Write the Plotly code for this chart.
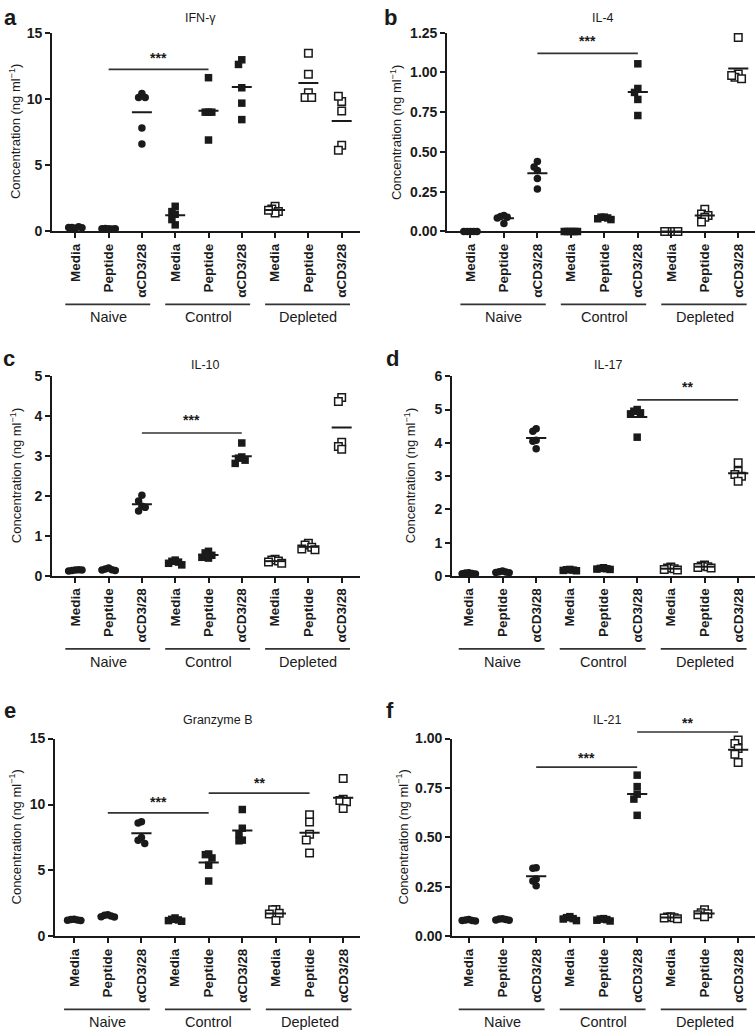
import plotly.graph_objects as go

W, H = 755, 1036

CATS = ["Media", "Peptide", "αCD3/28"] * 3
GROUPS = ["Naive", "Control", "Depleted"]
TITLES = ["IFN-γ", "IL-4", "IL-10", "IL-17", "Granzyme B", "IL-21"]
LETTERS = ["a", "b", "c", "d", "e", "f"]

# values (ng/ml), 9 conditions per panel: Naive/Control/Depleted x Media/Peptide/aCD3/28
IFNG = [[0.25, 0.3, 0.35, 0.3, 0.28], [0.2, 0.22, 0.18, 0.2, 0.21],
        [10.4, 10.1, 10.1, 7.8, 6.6],
        [1.9, 1.5, 1.3, 0.5, 0.9], [11.6, 9.0, 9.0, 9.0, 6.9],
        [12.95, 12.6, 10.84, 9.68, 8.44],
        [1.9, 1.7, 1.5, 1.4, 1.6], [13.45, 11.86, 10.47, 10.1, 10.1],
        [9.8, 10.2, 9.08, 6.5, 6.13]]
IL4 = [[0, 0, 0, 0, 0], [0.1, 0.095, 0.09, 0.085, 0.05],
       [0.44, 0.405, 0.384, 0.333, 0.267],
       [0, 0, 0, 0, 0], [0.09, 0.09, 0.085, 0.08, 0.075],
       [1.054, 0.899, 0.874, 0.83, 0.729],
       [0, 0, 0, 0, 0], [0.14, 0.11, 0.10, 0.09, 0.06],
       [1.22, 0.99, 0.97, 0.96, 0.98]]
IL10 = [[0.15, 0.14, 0.16, 0.13, 0.15], [0.2, 0.18, 0.16, 0.15, 0.14],
        [2.02, 1.88, 1.75, 1.72, 1.63],
        [0.4, 0.37, 0.35, 0.32, 0.28], [0.62, 0.58, 0.52, 0.47, 0.45],
        [3.33, 2.98, 2.95, 2.9, 2.82],
        [0.42, 0.4, 0.38, 0.35, 0.32], [0.82, 0.78, 0.72, 0.68, 0.66],
        [4.47, 4.37, 3.35, 3.24, 3.17]]
IL17 = [[0.1, 0.09, 0.08, 0.07, 0.06], [0.15, 0.13, 0.12, 0.11, 0.1],
        [4.42, 4.35, 4.08, 4.05, 3.82],
        [0.2, 0.19, 0.18, 0.17, 0.16], [0.25, 0.23, 0.22, 0.21, 0.2],
        [5.0, 4.95, 4.9, 4.87, 4.17],
        [0.27, 0.24, 0.22, 0.2, 0.18], [0.33, 0.3, 0.28, 0.26, 0.24],
        [3.4, 3.15, 3.05, 3.0, 2.85]]
GZMB = [[1.3, 1.28, 1.25, 1.22, 1.2], [1.65, 1.6, 1.55, 1.5, 1.48],
        [8.7, 8.6, 7.5, 7.3, 7.05],
        [1.4, 1.3, 1.25, 1.2, 1.15], [6.25, 6.2, 5.95, 5.4, 4.2],
        [9.62, 8.2, 7.75, 7.3, 7.25],
        [2.05, 2.02, 1.75, 1.7, 1.2], [9.22, 8.68, 7.74, 7.31, 6.32],
        [11.98, 10.4, 10.3, 10.2, 9.7]]
IL21 = [[0.085, 0.083, 0.08, 0.08, 0.078], [0.09, 0.088, 0.085, 0.083, 0.082],
        [0.347, 0.345, 0.29, 0.28, 0.256],
        [0.1, 0.095, 0.09, 0.088, 0.08], [0.09, 0.088, 0.085, 0.082, 0.078],
        [0.815, 0.757, 0.719, 0.694, 0.612],
        [0.1, 0.098, 0.095, 0.093, 0.09], [0.135, 0.12, 0.115, 0.11, 0.1],
        [0.992, 0.975, 0.95, 0.921, 0.879]]

# significance brackets: (from category, to category, bar level, stars level, label)
SIG_IFNG = [(1, 4, 12.23, 13.1, "***")]
SIG_IL4 = [(2, 5, 1.12, 1.2, "***")]
SIG_IL10 = [(2, 5, 3.58, 3.9, "***")]
SIG_IL17 = [(5, 8, 5.29, 5.68, "**")]
SIG_GZMB = [(1, 4, 9.37, 10.2, "***"), (4, 7, 10.86, 11.6, "**")]
SIG_IL21 = [(2, 5, 0.856, 0.9, "***"), (5, 8, 1.033, 1.08, "**")]

YTICKS_IFNG = [0, 5, 10, 15]
YTICKS_IL4 = [0, 0.25, 0.5, 0.75, 1.0, 1.25]
YTICKS_IL10 = [0, 1, 2, 3, 4, 5]
YTICKS_IL17 = [0, 1, 2, 3, 4, 5, 6]
YTICKS_GZMB = [0, 5, 10, 15]
YTICKS_IL21 = [0, 0.25, 0.5, 0.75, 1.0]

PANELS = [
    dict(data=IFNG, sig=SIG_IFNG, ticks=YTICKS_IFNG, fmt="{:g}", box=(52, 360, 25, 227), xr=(-0.7, 8.55), ytx=15, letter=(10, 10), title=(200, 10)),
    dict(data=IL4, sig=SIG_IL4, ticks=YTICKS_IL4, fmt="{:.2f}", box=(447, 755, 25, 227), xr=(-0.7, 8.5), ytx=396, letter=(390, 10), title=(603, 10)),
    dict(data=IL10, sig=SIG_IL10, ticks=YTICKS_IL10, fmt="{:g}", box=(52, 360, 374, 577), xr=(-0.7, 8.55), ytx=16, letter=(9, 356), title=(205, 363)),
    dict(data=IL17, sig=SIG_IL17, ticks=YTICKS_IL17, fmt="{:g}", box=(452, 755, 374, 577), xr=(-0.5, 8.5), ytx=410, letter=(392, 356), title=(608, 363)),
    dict(data=GZMB, sig=SIG_GZMB, ticks=YTICKS_GZMB, fmt="{:g}", box=(55, 360, 742, 943), xr=(-0.57, 8.5), ytx=16, letter=(10, 714), title=(217, 723)),
    dict(data=IL21, sig=SIG_IL21, ticks=YTICKS_IL21, fmt="{:.2f}", box=(452, 755, 742, 943), xr=(-0.5, 8.5), ytx=403, letter=(390, 714), title=(607, 723)),
]

FONT = "Arial, Liberation Sans, sans-serif"
INK = "#1a1a1a"
MSIZE = 7.5


def px_x(p):
    return p / W


def px_y(p):
    return 1 - p / H


def swarm(vals, sx, sy, step=3.3, rx=3.3, ry=6.5):
    """Spread overlapping points sideways (pixel-based beeswarm)."""
    placed = []
    offs = []
    cands = [0]
    for j in range(1, 12):
        cands += [-j, j]
    for v in vals:
        yp = v * sy
        xp = 0
        for c in cands:
            xp = c * step
            if all(((xp - a) / rx) ** 2 + ((yp - b) / ry) ** 2 >= 0.999 for a, b in placed):
                break
        placed.append((xp, yp))
        offs.append(xp / sx)
    return offs


fig = go.Figure()
layout = {}
annotations = []
shapes = []

for n, p in enumerate(PANELS):
    k = "" if n == 0 else str(n + 1)
    xa, ya = "x" + k, "y" + k
    L, R, T, B = p["box"]
    ymax = p["ticks"][-1]
    sx = (R - L) / (p["xr"][1] - p["xr"][0])
    sy = (B - T) / ymax

    def val_to_paper(v):
        return px_y(B - v * sy)

    layout["xaxis" + k] = dict(
        domain=[px_x(L), min(px_x(R), 1.0)], range=list(p["xr"]), anchor=ya,
        tickmode="array", tickvals=list(range(9)), ticktext=CATS, tickangle=-90,
        ticks="outside", ticklen=5, tickwidth=1.5, tickcolor=INK,
        showline=True, linecolor=INK, linewidth=1.7, showgrid=False, zeroline=False,
        tickfont=dict(family=FONT, size=13.5, color=INK, weight="bold"), fixedrange=True)
    layout["yaxis" + k] = dict(
        domain=[px_y(B), px_y(T)], range=[0, ymax], anchor=xa,
        tickmode="array", tickvals=p["ticks"], ticktext=[p["fmt"].format(t) for t in p["ticks"]],
        ticks="outside", ticklen=5, tickwidth=1.5, tickcolor=INK,
        showline=True, linecolor=INK, linewidth=1.7, showgrid=False, zeroline=False,
        tickfont=dict(family=FONT, size=14, color=INK, weight="bold"), fixedrange=True)

    for i, vals in enumerate(p["data"]):
        g = i // 3
        offs = swarm(vals, sx, sy)
        if g == 0:
            marker = dict(symbol="circle", size=MSIZE, color=INK, line=dict(width=0))
        elif g == 1:
            marker = dict(symbol="square", size=MSIZE, color=INK, line=dict(width=0))
        else:
            marker = dict(symbol="square", size=MSIZE, color="white", line=dict(width=1.5, color=INK))
        fig.add_trace(go.Scatter(x=[i + o for o in offs], y=vals, mode="markers", marker=marker,
                                 xaxis=xa, yaxis=ya, cliponaxis=False, showlegend=False, hoverinfo="y"))
        m = sum(vals) / len(vals)
        fig.add_trace(go.Scatter(x=[i - 0.3, i + 0.3], y=[m, m], mode="lines",
                                 line=dict(color=INK, width=2), xaxis=xa, yaxis=ya,
                                 cliponaxis=False, showlegend=False, hoverinfo="skip"))

    for (a, b, lvl, slvl, lab) in p["sig"]:
        shapes.append(dict(type="line", xref=xa, yref="paper", x0=a, x1=b,
                           y0=val_to_paper(lvl), y1=val_to_paper(lvl),
                           line=dict(color="#333", width=1.7)))
        annotations.append(dict(x=px_x(L + (0.5 * (a + b) - p["xr"][0]) * sx), y=val_to_paper(slvl),
                                xref="paper", yref="paper", text=lab, showarrow=False,
                                xanchor="center", yanchor="middle",
                                font=dict(family=FONT, size=14, color=INK, weight="bold")))

    # group brackets below tick labels
    for g, gname in enumerate(GROUPS):
        shapes.append(dict(type="line", xref=xa, yref="paper", x0=3 * g - 0.3, x1=3 * g + 2.25,
                           y0=px_y(B + 74), y1=px_y(B + 74), line=dict(color="#333", width=1.8)))
        annotations.append(dict(x=3 * g + 1, y=px_y(B + 87), xref=xa, yref="paper", text=gname,
                                showarrow=False, xanchor="center", yanchor="middle",
                                font=dict(family=FONT, size=14.5, color=INK)))

    # y-axis title
    annotations.append(dict(x=px_x(p["ytx"]), y=px_y((T + B) / 2), xref="paper", yref="paper",
                            text="Concentration (ng ml<sup>−1</sup>)", textangle=-90, showarrow=False,
                            xanchor="center", yanchor="middle",
                            font=dict(family=FONT, size=13, color=INK)))
    # panel title
    annotations.append(dict(x=px_x(p["title"][0]), y=px_y(p["title"][1]), xref="paper", yref="paper",
                            text=TITLES[n], showarrow=False, xanchor="center", yanchor="middle",
                            font=dict(family=FONT, size=12.5, color=INK)))
    # panel letter
    annotations.append(dict(x=px_x(p["letter"][0]), y=px_y(p["letter"][1]), xref="paper", yref="paper",
                            text=LETTERS[n], showarrow=False, xanchor="center", yanchor="middle",
                            font=dict(family=FONT, size=22, color=INK, weight="bold")))

fig.update_layout(width=W, height=H, margin=dict(l=0, r=0, t=0, b=0),
                  paper_bgcolor="white", plot_bgcolor="white",
                  annotations=annotations, shapes=shapes, **layout)
fig.write_html("out.html", config={"displayModeBar": False},
               post_script="document.body.style.margin='0';document.body.style.padding='0';")
